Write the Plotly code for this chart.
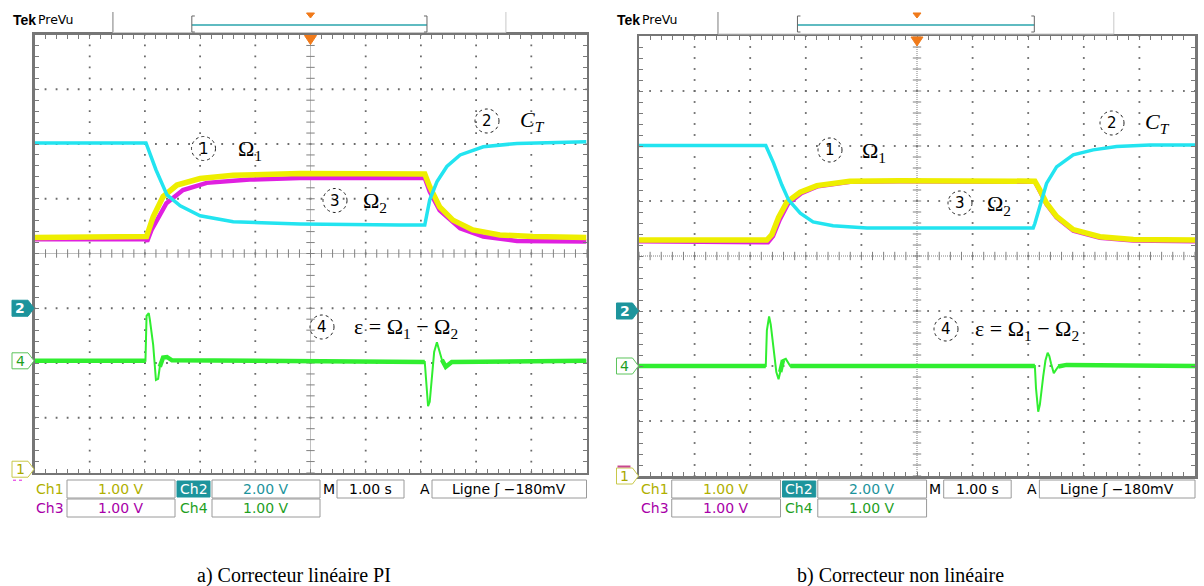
import plotly.graph_objects as go

# ---------------- DATA (time in s at 1 s/div, amplitude in screen divisions, 0 = bottom) ----
# a) Correcteur linéaire PI
t_ct_a = [0, 2.02, 2.20, 2.40, 2.64, 3.00, 3.60, 4.81, 6.62, 7.07, 7.16, 7.29, 7.47, 7.71, 8.13, 8.74, 10]
v_ct_a = [6.02, 6.02, 5.53, 5.07, 4.87, 4.69, 4.58, 4.54, 4.52, 4.52, 4.98, 5.31, 5.59, 5.80, 5.95, 6.01, 6.04]

t_w1_a = [0, 2.02, 2.03, 2.15, 2.33, 2.58, 3.00, 3.60, 4.81, 7.07, 7.16, 7.34, 7.58, 7.94, 8.43, 9.03, 10]
v_w1_a = [4.29, 4.29, 4.31, 4.67, 5.04, 5.25, 5.37, 5.43, 5.46, 5.45, 5.22, 4.85, 4.61, 4.43, 4.34, 4.31, 4.29]

t_w2_a = [0, 2.02, 2.04, 2.12, 2.39, 2.69, 3.12, 3.90, 4.81, 7.07, 7.16, 7.34, 7.71, 8.13, 8.74, 10]
v_w2_a = [4.26, 4.26, 4.22, 4.43, 4.92, 5.16, 5.29, 5.35, 5.38, 5.38, 5.13, 4.79, 4.46, 4.31, 4.23, 4.22]

t_eps_a = [0, 2.01, 2.03, 2.07, 2.09, 2.15, 2.20, 2.24, 2.27, 2.33, 2.40, 2.49,
           7.07, 7.10, 7.13, 7.16, 7.20, 7.24, 7.29, 7.32, 7.38, 7.45, 7.56, 10]
v_eps_a = [2.04, 2.04, 2.86, 2.91, 2.79, 2.33, 1.69, 1.71, 1.93, 2.10, 2.11, 2.05,
           2.02, 1.60, 1.21, 1.29, 1.75, 2.20, 2.38, 2.28, 2.06, 1.93, 2.02, 2.04]

# b) Correcteur non linéaire
t_ct_b = [0, 2.28, 2.42, 2.57, 2.69, 2.90, 3.13, 3.49, 4.10, 7.09, 7.12, 7.21, 7.33, 7.51, 7.81, 8.17, 8.59, 9.19, 10]
v_ct_b = [6.01, 6.01, 5.69, 5.29, 5.02, 4.78, 4.62, 4.55, 4.51, 4.51, 4.59, 4.90, 5.32, 5.62, 5.84, 5.93, 5.99, 6.02, 6.02]

t_w1_b = [0, 2.28, 2.30, 2.39, 2.51, 2.66, 2.90, 3.20, 3.79, 4.69, 7.12, 7.21, 7.33, 7.51, 7.81, 8.29, 8.89, 10]
v_w1_b = [4.29, 4.29, 4.29, 4.39, 4.70, 4.98, 5.16, 5.28, 5.36, 5.37, 5.36, 5.20, 4.96, 4.72, 4.48, 4.35, 4.30, 4.29]

t_w2_b = [0, 2.29, 2.32, 2.41, 2.53, 2.68, 2.92, 3.22, 3.80, 4.69, 7.12, 7.21, 7.33, 7.51, 7.81, 8.29, 8.89, 10]
v_w2_b = [4.27, 4.27, 4.25, 4.36, 4.66, 4.95, 5.14, 5.27, 5.35, 5.36, 5.35, 5.18, 4.94, 4.70, 4.46, 4.33, 4.28, 4.27]

t_eps_b = [0, 2.28, 2.30, 2.34, 2.37, 2.43, 2.47, 2.51, 2.54, 2.59, 2.64, 2.72,
           7.12, 7.14, 7.18, 7.21, 7.27, 7.31, 7.35, 7.38, 7.41, 7.46, 7.54, 7.69, 10]
v_eps_b = [2.0, 2.0, 2.65, 2.90, 2.75, 2.29, 1.89, 1.76, 1.89, 2.11, 2.13, 2.0,
           2.0, 1.60, 1.17, 1.30, 1.81, 2.10, 2.24, 2.18, 2.05, 1.87, 1.99, 2.02, 2.0]

# channel ground markers (divisions)
ch_levels_a = {"1": 0.06, "2": 3.0, "4": 2.04}
ch_levels_b = {"1": 0.0, "2": 3.0, "4": 2.0}
eps_base_a = 2.04
eps_base_b = 2.0

captions = ["a) Correcteur linéaire PI", "b) Correcteur non linéaire"]
row1 = [("Ch1", "1.00 V"), ("Ch2", "2.00 V")]
row2 = [("Ch3", "1.00 V"), ("Ch4", "1.00 V")]
timebase = "1.00 s"
trigger = "Ligne ʃ −180mV"

# ---------------- LAYOUT GEOMETRY ----------------
W, H = 1204, 586
def fx(px): return px / W
def fy(py): return 1 - py / H

screens = [
    dict(x0=34.5, x1=586.5, y0=34.5, y1=472.5, xa="x", ya="y", xname="xaxis", yname="yaxis"),
    dict(x0=639.0, x1=1195.0, y0=36.0, y1=476.0, xa="x2", ya="y2", xname="xaxis2", yname="yaxis2"),
]

C_CYAN = "#22e4f0"
C_YEL = "#eeee00"
C_MAG = "#e020e0"
C_GRN = "#30ee30"
C_TEAL = "#1d949c"
C_OLIVE = "#b0b000"
C_PURP = "#a800a8"
C_DGRN = "#1f9f1f"
GRID = "#6a6a6a"
SANS = "DejaVu Sans"
SERIF = "Liberation Serif"

fig = go.Figure()
shapes, annots = [], []

def add_path(pts, fill=None, color="#000", width=1, dash=None):
    p = "M " + " L ".join(f"{fx(x):.5f},{fy(y):.5f}" for x, y in pts)
    if fill:
        p += " Z"
    d = dict(type="path", xref="paper", yref="paper", path=p,
             line=dict(color=color, width=width))
    if dash:
        d["line"]["dash"] = dash
    if fill:
        d["fillcolor"] = fill
    shapes.append(d)

def add_text(px, py, text, size=13, color="#000", family=SANS, xanchor="center", bg=None):
    a = dict(x=fx(px), y=fy(py), xref="paper", yref="paper", text=text, showarrow=False,
             font=dict(size=size, color=color, family=family), xanchor=xanchor, yanchor="middle")
    if bg:
        a["bgcolor"] = bg
    annots.append(a)

def add_rect(xa, ya, xb, yb, color="#9a9a9a", fill=None, width=1):
    d = dict(type="rect", xref="paper", yref="paper", x0=fx(xa), x1=fx(xb), y0=fy(yb), y1=fy(ya),
             line=dict(color=color, width=width))
    if fill:
        d["fillcolor"] = fill
    shapes.append(d)

data_sets = [
    (t_ct_a, v_ct_a, t_w1_a, v_w1_a, t_w2_a, v_w2_a, t_eps_a, v_eps_a, eps_base_a, ch_levels_a),
    (t_ct_b, v_ct_b, t_w1_b, v_w1_b, t_w2_b, v_w2_b, t_eps_b, v_eps_b, eps_base_b, ch_levels_b),
]

for si, scr in enumerate(screens):
    xa, ya = scr["xa"], scr["ya"]
    sw = scr["x1"] - scr["x0"]
    def rx(r, scr=scr, sw=sw):
        return scr["x0"] + r * sw

    # graticule dots
    gx, gy = [], []
    for i in range(1, 10):
        if i == 5:
            continue
        for j in range(0, 41):
            gx.append(i); gy.append(j * 0.2)
    for j in range(1, 8):
        if j == 4:
            continue
        for k in range(0, 51):
            gx.append(k * 0.2); gy.append(j)
    fig.add_trace(go.Scatter(x=gx, y=gy, mode="markers", xaxis=xa, yaxis=ya, hoverinfo="skip",
                             marker=dict(symbol="square", size=1.8, color=GRID, line=dict(width=0))))
    # center axes
    fig.add_trace(go.Scatter(x=[5, 5], y=[0, 8], mode="lines", xaxis=xa, yaxis=ya, hoverinfo="skip",
                             line=dict(color="#808080", width=1, dash="1px,1px")))
    fig.add_trace(go.Scatter(x=[0, 10], y=[4, 4], mode="lines", xaxis=xa, yaxis=ya, hoverinfo="skip",
                             line=dict(color="#808080", width=1, dash="1px,1px")))
    fig.add_trace(go.Scatter(x=[5] * 41, y=[j * 0.2 for j in range(41)], mode="markers", xaxis=xa, yaxis=ya,
                             hoverinfo="skip",
                             marker=dict(symbol="line-ew", size=6, line=dict(color="#808080", width=1))))
    fig.add_trace(go.Scatter(x=[k * 0.2 for k in range(51)], y=[4] * 51, mode="markers", xaxis=xa, yaxis=ya,
                             hoverinfo="skip",
                             marker=dict(symbol="line-ns", size=6, line=dict(color="#808080", width=1))))

    (tct, vct, tw1, vw1, tw2, vw2, te, ve, ebase, lv) = data_sets[si]
    fig.add_trace(go.Scatter(x=tw2, y=vw2, mode="lines", xaxis=xa, yaxis=ya,
                             line=dict(color=C_MAG, width=4.5)))
    fig.add_trace(go.Scatter(x=tw1, y=vw1, mode="lines", xaxis=xa, yaxis=ya,
                             line=dict(color=C_YEL, width=5.5)))
    fig.add_trace(go.Scatter(x=tct, y=vct, mode="lines", xaxis=xa, yaxis=ya,
                             line=dict(color=C_CYAN, width=3.5)))
    fig.add_trace(go.Scatter(x=te, y=ve, mode="lines", xaxis=xa, yaxis=ya,
                             line=dict(color=C_GRN, width=2)))
    ve_band = [v if abs(v - ebase) < 0.12 else None for v in ve]
    fig.add_trace(go.Scatter(x=te, y=ve_band, mode="lines", xaxis=xa, yaxis=ya, connectgaps=False,
                             line=dict(color=C_GRN, width=4.5)))

    # axes
    dom_x = [fx(scr["x0"]), fx(scr["x1"])]
    dom_y = [fy(scr["y1"]), fy(scr["y0"])]
    common = dict(showgrid=False, zeroline=False, showticklabels=False, ticks="inside", tick0=0, dtick=0.2,
                  ticklen=4, tickwidth=1, tickcolor="#7a7a7a", mirror="allticks", showline=True,
                  linecolor="#767676", linewidth=2.5, fixedrange=True)
    fig.update_layout(**{
        scr["xname"]: dict(domain=dom_x, range=[0, 10], anchor=ya, **common),
        scr["yname"]: dict(domain=dom_y, range=[0, 8], anchor=xa, **common),
    })

    # trigger marker on top
    cx = rx(0.5)
    add_path([(cx - 6, scr["y0"] + 1), (cx + 6, scr["y0"] + 1), (cx, scr["y0"] + 10)],
             fill="#f07a1a", color="#f07a1a")

    # header
    add_text(scr["x0"] - 24, 20, "<b>Tek</b>", size=14, family="Liberation Sans", xanchor="left")
    add_text(scr["x0"] + 1.5, 19, "PreVu", size=12.5, xanchor="left")
    s1, s2 = rx(0.142), rx(0.854)
    add_path([(s1, 12), (s1, scr["y0"] - 2)], color="#a8a8a8", width=1.5)
    add_path([(s2, 12), (s2, scr["y0"] - 2)], color="#c8c8c8", width=1)
    add_path([(s1, scr["y0"] - 2), (s2, scr["y0"] - 2)], color="#c8c8c8", width=1)
    b1, b2 = rx(0.285), rx(0.711)
    add_path([(b1, 25), (b2, 25)], color="#2aa5ad", width=1.5)
    add_path([(b1 + 3, 16), (b1, 16), (b1, 32), (b1 + 3, 32)], color="#666", width=1)
    add_path([(b2 - 3, 16), (b2, 16), (b2, 32), (b2 - 3, 32)], color="#666", width=1)
    add_path([(cx - 4, 13), (cx + 4, 13), (cx, 18)], fill="#f07a1a", color="#f07a1a")

    # channel markers on left of screen
    def level_py(d, scr=scr):
        return scr["y1"] - d * (scr["y1"] - scr["y0"]) / 8
    xl, xr, tip = scr["x0"] - 22.5, scr["x0"] - 6.5, scr["x0"] - 0.5
    for lab, fill, border, tc in [("2", C_TEAL, C_TEAL, "white"),
                                   ("4", "white", "#5cc45c", C_DGRN),
                                   ("1", "white", "#c8c848", "#a8a800")]:
        yc = level_py(lv[lab])
        add_path([(xl, yc - 8), (xr, yc - 8), (tip, yc), (xr, yc + 8), (xl, yc + 8)],
                 fill=fill, color=border, width=1)
        add_text((xl + xr) / 2, yc, f"<b>{lab}</b>" if lab == "2" else lab, size=14, color=tc)
    yc1 = level_py(lv["1"])
    if si == 0:
        add_path([(xl + 1, yc1 + 11), (xl + 10, yc1 + 11)], color=C_MAG, width=1, dash="dot")
    else:
        add_path([(xl + 1, yc1 - 9.5), (xr - 2, yc1 - 9.5)], color="#c84890", width=2)

    # info area
    r1a, r1b, r2a, r2b = 480, 498, 499, 517
    def rr(px):
        return scr["x0"] + (px - 34.5) / 552 * sw
    add_text(rr(50), 489, row1[0][0], size=14, color=C_OLIVE)
    add_rect(rr(67), r1a, rr(175), r1b)
    add_text(rr(121), 489, row1[0][1], size=14, color=C_OLIVE)
    add_rect(rr(177), r1a + 1, rr(210), r1b - 1, color=C_TEAL, fill=C_TEAL)
    add_text(rr(193.5), 489, row1[1][0], size=14, color="white")
    add_rect(rr(212), r1a, rr(320), r1b)
    add_text(rr(266), 489, row1[1][1], size=14, color=C_TEAL)
    add_text(rr(328.5), 489, "M", size=14)
    add_rect(rr(337), r1a, rr(404), r1b)
    add_text(rr(370.5), 489, timebase, size=14)
    add_text(rr(425), 489, "A", size=14)
    add_rect(rr(432), r1a, scr["x1"], r1b)
    add_text((rr(432) + scr["x1"]) / 2, 489, trigger, size=14)
    add_text(rr(50), 508, row2[0][0], size=14, color=C_PURP)
    add_rect(rr(67), r2a, rr(175), r2b)
    add_text(rr(121), 508, row2[0][1], size=14, color=C_PURP)
    add_text(rr(193.5), 508, row2[1][0], size=14, color=C_DGRN)
    add_rect(rr(212), r2a, rr(320), r2b)
    add_text(rr(266), 508, row2[1][1], size=14, color=C_DGRN)

    add_text(rx(0.47), 575, captions[si], size=20, family=SERIF)

# circled labels (pixel positions)
labels = [
    # (circle cx, cy, number, text left x, text cy, text)
    (203.5, 148.5, "1", 236, 150, "Ω<sub>1</sub>"),
    (487, 121, "2", 518, 121, "<i>C<sub>T</sub></i>"),
    (335, 200.5, "3", 361, 202, "Ω<sub>2</sub>"),
    (322, 327, "4", 352, 328, "ε = Ω<sub>1</sub> − Ω<sub>2</sub>"),
    (830, 150, "1", 860, 152, "Ω<sub>1</sub>"),
    (1112, 123, "2", 1143, 123, "<i>C<sub>T</sub></i>"),
    (960, 203, "3", 985, 205, "Ω<sub>2</sub>"),
    (946, 329, "4", 973, 330, "ε = Ω<sub>1</sub> − Ω<sub>2</sub>"),
]
for (ccx, ccy, num, tx, ty, txt) in labels:
    r = 12
    shapes.append(dict(type="circle", xref="paper", yref="paper",
                       x0=fx(ccx - r), x1=fx(ccx + r), y0=fy(ccy + r), y1=fy(ccy - r),
                       line=dict(color="#222", width=1, dash="dot")))
    add_text(ccx, ccy, num, size=15, family=SANS)
    add_text(tx, ty, txt, size=22, family=SERIF, xanchor="left")

fig.update_layout(width=W, height=H, margin=dict(l=0, r=0, t=0, b=0),
                  paper_bgcolor="white", plot_bgcolor="white", showlegend=False,
                  shapes=shapes, annotations=annots)

fig.write_html("out.html", config={"displayModeBar": False, "staticPlot": True},
               post_script="document.body.style.margin='0px';document.body.style.padding='0px';"
                           "document.documentElement.style.overflow='hidden';")
